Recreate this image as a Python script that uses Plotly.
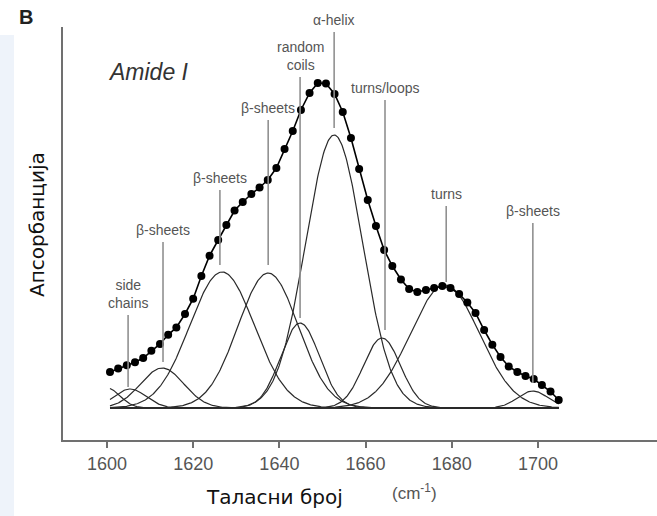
import numpy as np
import plotly.graph_objects as go

# ---------------- data ----------------
# measured spectrum (dots), wavenumber in cm-1, absorbance in arbitrary units
wavenumber = [1600.7, 1602.6, 1604.6, 1606.5, 1608.4, 1610.3, 1612.3, 1614.2, 1616.1, 1618.1,
              1620.0, 1621.9, 1623.8, 1625.8, 1627.7, 1629.6, 1631.5, 1633.5, 1635.4, 1637.3,
              1639.3, 1641.2, 1643.1, 1645.0, 1647.0, 1648.9, 1650.8, 1652.8, 1654.7, 1656.6,
              1658.5, 1660.5, 1662.4, 1664.3, 1666.2, 1668.2, 1670.1, 1672.0, 1674.0, 1675.9,
              1677.8, 1679.7, 1681.7, 1683.6, 1685.5, 1687.5, 1689.4, 1691.3, 1693.2, 1695.2,
              1697.1, 1699.0, 1700.9, 1702.9, 1704.8]
absorbance = [0.36, 0.394, 0.428, 0.457, 0.50, 0.572, 0.641, 0.732, 0.806, 0.94,
              1.093, 1.32, 1.523, 1.68, 1.83, 1.975, 2.06, 2.14, 2.205, 2.28,
              2.40, 2.59, 2.77, 2.98, 3.15, 3.25, 3.245, 3.14, 2.96, 2.70,
              2.39, 2.08, 1.82, 1.58, 1.42, 1.285, 1.19, 1.16, 1.18, 1.20,
              1.22, 1.20, 1.14, 1.055, 0.95, 0.78, 0.633, 0.51, 0.415, 0.36,
              0.32, 0.29, 0.23, 0.165, 0.08]

# fitted band components (centre cm-1, peak height, width sigma cm-1)
band_center = [1600.0, 1605.4, 1612.8, 1626.7, 1637.4, 1644.8, 1652.7, 1663.8, 1678.4, 1698.8]
band_height = [0.20, 0.19, 0.40, 1.36, 1.35, 0.85, 2.73, 0.70, 1.23, 0.17]
band_sigma = [3.0, 3.7, 5.0, 7.5, 7.0, 4.5, 6.6, 4.3, 8.0, 3.5]

# assignment labels
label_text = ["side<br>chains", "β-sheets", "β-sheets", "β-sheets", "random<br>coils",
              "α-helix", "turns/loops", "turns", "β-sheets"]
label_x = [1604.9, 1613.0, 1626.2, 1637.4, 1644.8, 1652.7, 1664.5, 1678.7, 1698.8]
label_line_top = [0.93, 1.66, 2.18, 2.88, 3.31, 3.76, 3.08, 2.02, 1.85]
label_line_bottom = [0.21, 0.46, 1.43, 1.43, 0.90, 2.80, 0.78, 1.26, 0.25]

x_ticks = [1600, 1620, 1640, 1660, 1680, 1700]

# ---------------- figure ----------------
fig = go.Figure()

xs = np.linspace(wavenumber[0], wavenumber[-1], 600)
for c, h, s in zip(band_center, band_height, band_sigma):
    fig.add_trace(go.Scatter(x=xs, y=h * np.exp(-(xs - c) ** 2 / (2 * s ** 2)),
                             mode="lines", line=dict(color="#2a2a2a", width=1.2),
                             hoverinfo="skip", showlegend=False))

# baseline
fig.add_trace(go.Scatter(x=[wavenumber[0], wavenumber[-1]], y=[0, 0], mode="lines",
                         line=dict(color="#2a2a2a", width=1.4), showlegend=False))

# measured data
fig.add_trace(go.Scatter(x=wavenumber, y=absorbance, mode="lines+markers",
                         line=dict(color="black", width=1.6),
                         marker=dict(color="black", size=8), showlegend=False))

# label lines and texts
for t, lx, lt, lb in zip(label_text, label_x, label_line_top, label_line_bottom):
    fig.add_shape(type="line", xref="x", yref="y", x0=lx, x1=lx, y0=lb, y1=lt,
                  line=dict(color="#909090", width=1.6))
    fig.add_annotation(x=lx, y=lt, xref="x", yref="y", text=t, showarrow=False,
                       font=dict(family="Liberation Sans, Arial", size=14, color="#555555"),
                       xanchor="center", yanchor="bottom", yshift=2)

# pale background patch of the scanned page (left edge)
fig.add_shape(type="rect", xref="paper", yref="paper", x0=-63/594, x1=-49/594, y0=-76/413, y1=405/413,
              line=dict(width=0), fillcolor="#eef3fa", layer="below")

fig.add_annotation(xref="paper", yref="paper", x=-37/594, y=(440-17)/413, text="<b>B</b>",
                   showarrow=False, font=dict(family="Liberation Sans, Arial", size=20, color="#222222"),
                   xanchor="center", yanchor="middle")
fig.add_annotation(xref="paper", yref="paper", x=(148-63)/594, y=(440-72)/413, text="<i>Amide I</i>",
                   showarrow=False, font=dict(family="Liberation Sans, Arial", size=23, color="#333333"),
                   xanchor="center", yanchor="middle")
fig.add_annotation(xref="paper", yref="paper", x=(274-63)/594, y=(440-497)/413, text="Таласни број",
                   showarrow=False, font=dict(family="DejaVu Sans", size=20, color="#111111"),
                   xanchor="center", yanchor="middle")
fig.add_annotation(xref="paper", yref="paper", x=(414-63)/594, y=(440-492)/413, text="(cm<sup>-1</sup>)",
                   showarrow=False, font=dict(family="Liberation Sans, Arial", size=17, color="#555555"),
                   xanchor="center", yanchor="middle")
fig.add_annotation(xref="paper", yref="paper", x=(37-63)/594, y=(440-225)/413, text="Апсорбанција",
                   textangle=-90, showarrow=False,
                   font=dict(family="DejaVu Sans", size=20, color="#111111"),
                   xanchor="center", yanchor="middle")

fig.update_xaxes(range=[1589.8, 1727.6], tickvals=x_ticks, ticks="outside", ticklen=6,
                 tickcolor="#707070", tickwidth=1.5, showline=True, linecolor="#707070",
                 linewidth=1.8, showgrid=False, zeroline=False,
                 tickfont=dict(family="Liberation Sans, Arial", size=18, color="#555555"))
fig.update_yaxes(range=[-0.32, 3.81], showticklabels=False, ticks="", showline=True,
                 linecolor="#707070", linewidth=1.8, showgrid=False, zeroline=False)

fig.update_layout(width=657, height=516, margin=dict(l=63, r=0, t=27, b=76),
                  paper_bgcolor="white", plot_bgcolor="white", showlegend=False)

fig.write_html("out.html", config={"displayModeBar": False},
               post_script="document.body.style.margin='0';document.body.style.overflow='hidden';")
